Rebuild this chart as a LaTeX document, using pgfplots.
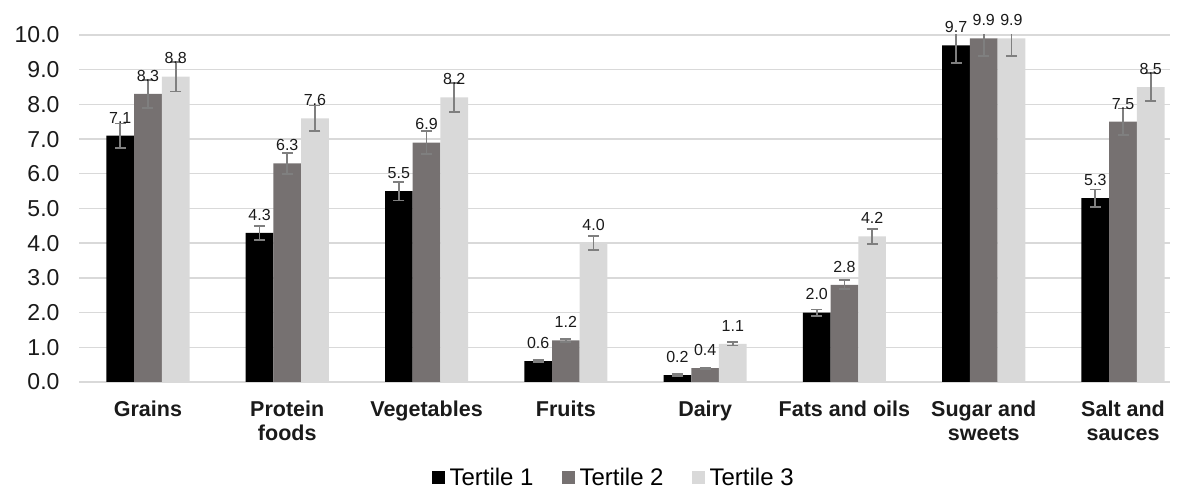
\documentclass[border=0pt]{standalone}
\usepackage{pgfplots}
\pgfplotsset{compat=1.18}
\usepackage{pgfplotstable}
\usepackage{fontspec}
\setmainfont{Liberation Sans}
\definecolor{tone}{HTML}{000000}
\definecolor{ttwo}{HTML}{767171}
\definecolor{tthree}{HTML}{D9D9D9}
\definecolor{gridc}{HTML}{D9D9D9}
\definecolor{errc}{HTML}{7F7F7F}
\definecolor{txt}{HTML}{1A1A1A}

\pgfplotstableread{
x y e
0 7.1 0.35
1 4.3 0.20
2 5.5 0.27
3 0.6 0.03
4 0.2 0.02
5 2.0 0.09
6 9.7 0.50
7 5.3 0.25
}\tone
\pgfplotstableread{
x y e
0 8.3 0.40
1 6.3 0.30
2 6.9 0.34
3 1.2 0.05
4 0.4 0.02
5 2.8 0.13
6 9.9 0.50
7 7.5 0.38
}\ttwo
\pgfplotstableread{
x y e
0 8.8 0.43
1 7.6 0.37
2 8.2 0.42
3 4.0 0.20
4 1.1 0.05
5 4.2 0.22
6 9.9 0.50
7 8.5 0.41
}\tthree

\begin{document}
\begin{tikzpicture}
\useasboundingbox (0,0) rectangle (1178pt,492pt);
\begin{axis}[
  at={(79pt,110pt)}, anchor=south west,
  scale only axis,
  width=1091pt, height=347pt,
  ybar=0pt, bar width=27.7pt,
  xmin=-0.495, xmax=7.337,
  ymin=0, ymax=10,
  ytick={0,1,...,10},
  xtick=data,
  xticklabels={Grains,{Protein\\foods},Vegetables,Fruits,Dairy,{Fats and oils},{Sugar and\\sweets},{Salt and\\sauces}},
  axis line style={draw=none},
  major tick length=0pt,
  tick style={draw=none},
  ymajorgrids,
  grid style={gridc, line width=1.4pt},
  /pgf/number format/assume math mode=true,
  yticklabel style={/pgf/number format/.cd, fixed, fixed zerofill, precision=1, /tikz/.cd, font=\fontsize{23}{26}\selectfont, text=txt, xshift=-16pt},
  xticklabel style={align=center, font=\bfseries\fontsize{21.5}{24.3}\selectfont, text=txt, yshift=-15pt},
  nodes near coords,
  nodes near coords style={/pgf/number format/.cd, fixed, fixed zerofill, precision=1, assume math mode=true, /tikz/.cd, font=\fontsize{16}{18}\selectfont, text=txt, yshift=9pt},
  error bars/y dir=both,
  error bars/y explicit,
  error bars/error bar style={errc, line width=1.8pt},
  error bars/error mark options={errc, line width=1.8pt, mark size=5.5pt, rotate=90},
  legend columns=3,
  legend style={draw=none, at={(0.4900,-0.274)}, anchor=center, font=\fontsize{24}{26}\selectfont,
    inner sep=1pt,
    /tikz/every odd column/.append style={column sep=3pt},
    /tikz/every even column/.append style={column sep=26pt}},
  legend image code/.code={\fill[#1, draw=none] (0pt,-6.5pt) rectangle (13pt,6.5pt);},
  clip=true,
]
\addplot[fill=tone, draw=none] table[x=x, y=y, y error=e] {\tone};
\addplot[fill=ttwo, draw=none] table[x=x, y=y, y error=e] {\ttwo};
\addplot[fill=tthree, draw=none] table[x=x, y=y, y error=e] {\tthree};
\legend{Tertile 1, Tertile 2, Tertile 3}
\end{axis}
\end{tikzpicture}
\end{document}
